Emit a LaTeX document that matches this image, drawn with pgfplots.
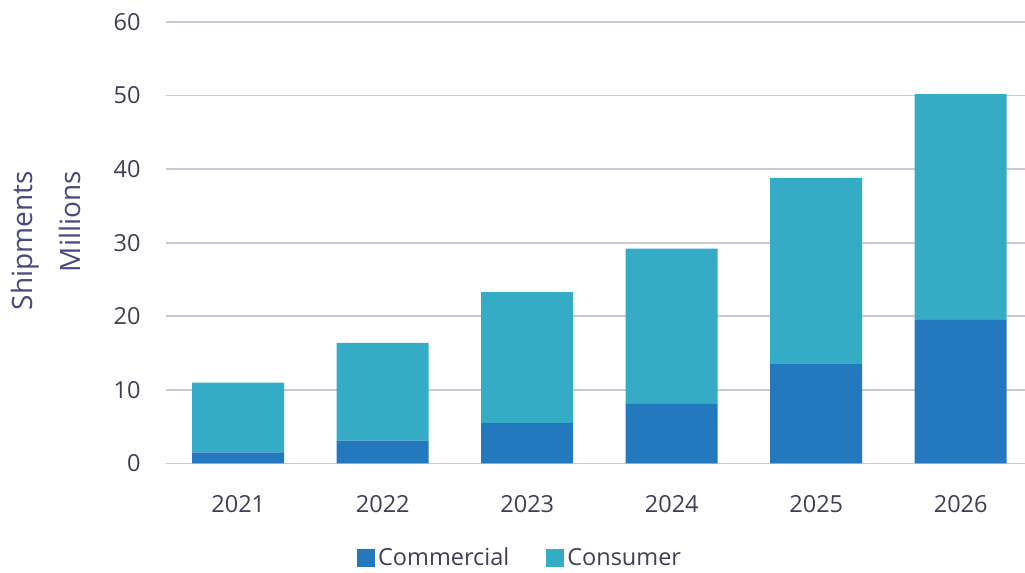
\documentclass[border=0pt]{standalone}
\usepackage{pgfplots}
\pgfplotsset{compat=1.18}
\usepackage{fontspec}
\setmainfont{Open Sans}
\definecolor{comm}{RGB}{36,120,189}
\definecolor{cons}{RGB}{53,172,198}
\definecolor{gridc}{RGB}{200,200,214}
\definecolor{tickc}{RGB}{62,62,88}
\definecolor{labc}{RGB}{72,72,130}
\begin{document}
\begin{tikzpicture}
\begin{axis}[
  at={(83pt,54.75pt)}, anchor=south west,
  scale only axis, width=433.5pt, height=220.8pt,
  xmin=-0.5, xmax=5.5, ymin=0, ymax=60,
  ybar stacked, bar width=46pt,
  xtick={0,...,5}, xticklabels={2021,2022,2023,2024,2025,2026},
  ytick={0,10,...,60},
  axis line style={draw=none},
  major tick length=0pt,
  ymajorgrids, grid style={draw=gridc, line width=0.9pt},
  /pgf/number format/assume math mode=true,
  ticklabel style={font=\fontsize{11.75}{14}\selectfont, text=tickc},
  xticklabel style={inner sep=0pt, anchor=north, yshift=-15.75pt},
  yticklabel style={inner sep=0pt, anchor=east, xshift=-12.5pt},
  ylabel={Shipments\\Millions},
  ylabel style={at={(axis description cs:-0.1384,0.663)}, anchor=east, inner sep=0pt,
    align=right, font=\fontsize{14}{24}\selectfont, text=labc},
  legend columns=2,
  legend style={at={(axis description cs:0.409,-0.214)}, anchor=center, draw=none,
    font=\fontsize{11.75}{14}\selectfont, text=tickc,
    /tikz/every even column/.append style={column sep=17pt},
    nodes={inner sep=1.5pt}},
  legend image code/.code={\fill[#1] (0pt,-4.5pt) rectangle (9pt,4.5pt);},
]
\addplot[fill=comm, draw=none] coordinates {(0,1.5) (1,3.1) (2,5.5) (3,8.1) (4,13.6) (5,19.5)};
\addplot[fill=cons, draw=none] coordinates {(0,9.5) (1,13.3) (2,17.8) (3,21.1) (4,25.2) (5,30.7)};
\legend{Commercial, Consumer}
\end{axis}
\pgfresetboundingbox
\useasboundingbox (0,0) rectangle (512.5pt,286.5pt);
\end{tikzpicture}
\end{document}
